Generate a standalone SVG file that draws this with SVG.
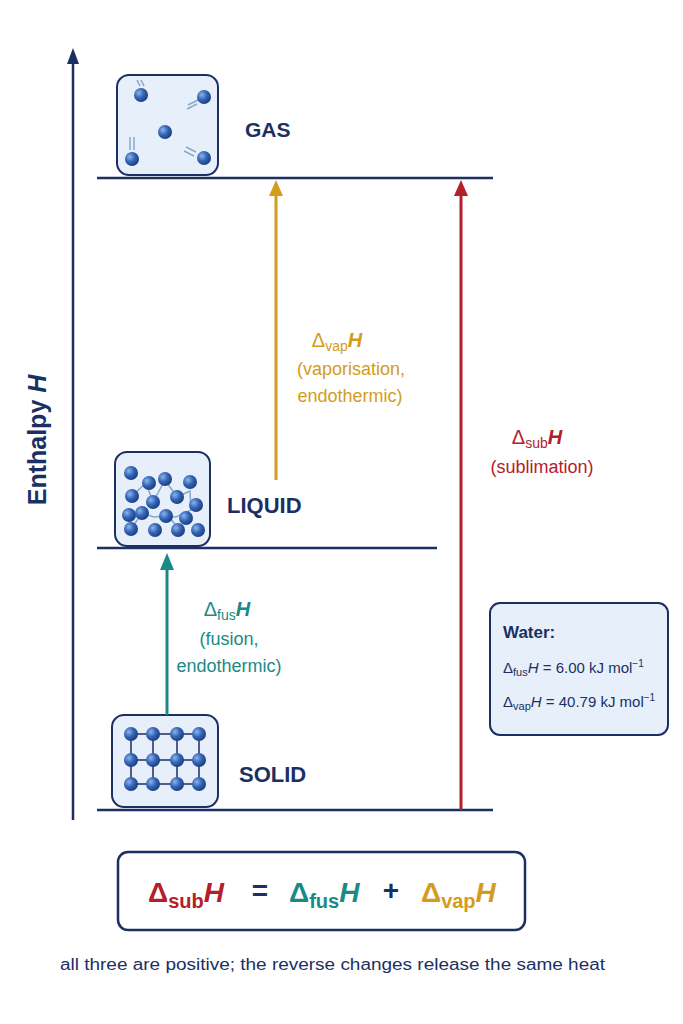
<svg xmlns="http://www.w3.org/2000/svg" width="683" height="1024" viewBox="0 0 683 1024">
<defs>
<style>
text{font-family:"Liberation Sans",Arial,sans-serif}
.navy{fill:#1b2f63}
.box{fill:#e6effa;stroke:#1b2f63;stroke-width:2}
.lvl{stroke:#1b2f63;stroke-width:2.5}
.ball{fill:url(#bg)}
.bond{stroke:#1b2f63;stroke-width:1.5}
.lb{stroke:#8aa8cc;stroke-width:1.5}
.gold{fill:#d49c1c}.teal{fill:#1a8a86}.red{fill:#b3202a}
</style>
<radialGradient id="bg" cx="0.35" cy="0.35" r="0.7"><stop offset="0" stop-color="#8fb4ea"/><stop offset="0.5" stop-color="#3466b8"/><stop offset="1" stop-color="#1b3b7a"/></radialGradient>
</defs>
<g id="axis">
<line x1="73" y1="820" x2="73" y2="62" stroke="#1b2f63" stroke-width="2.5"/>
<path d="M67,64 L73,48 L79,64 Z" fill="#1b2f63"/>
<text transform="translate(46,440) rotate(-90)" text-anchor="middle" font-size="25" font-weight="bold" class="navy">Enthalpy <tspan font-style="italic">H</tspan></text>
</g>
<g id="levels">
<line class="lvl" x1="97" y1="178" x2="493" y2="178"/>
<line class="lvl" x1="97" y1="548" x2="437" y2="548"/>
<line class="lvl" x1="97" y1="810" x2="493" y2="810"/>
</g>
<g id="gas">
<rect class="box" x="117" y="75" width="101" height="100" rx="12"/>
<g class="lb"><line x1="140" y1="86" x2="137" y2="80"/><line x1="144" y1="86" x2="141" y2="80"/><line x1="188" y1="105" x2="198" y2="100"/><line x1="187" y1="109" x2="197" y2="104"/><line x1="130" y1="150" x2="130" y2="137"/><line x1="134" y1="150" x2="134" y2="137"/><line x1="186" y1="147" x2="196" y2="152"/><line x1="184" y1="151" x2="194" y2="156"/></g>
<circle class="ball" cx="141" cy="95" r="7"/><circle class="ball" cx="204" cy="97" r="7"/><circle class="ball" cx="165" cy="132" r="7"/><circle class="ball" cx="132" cy="159" r="7"/><circle class="ball" cx="204" cy="158" r="7"/>
<text x="245" y="137" font-size="21" font-weight="bold" class="navy">GAS</text>
</g>
<g id="liquid">
<rect class="box" x="115" y="452" width="95" height="94" rx="12"/>
<g class="lb"><polyline fill="none" points="132,496 146,483 153,502 165,480 177,497 190,491 191,510 176,517 165,516 154,517 142,513 129,518"/><line x1="131" y1="529" x2="142" y2="513"/><line x1="168" y1="516" x2="180" y2="530"/></g>
<g class="ball"><circle cx="131" cy="473" r="7"/><circle cx="149" cy="483" r="7"/><circle cx="165" cy="479" r="7"/><circle cx="190" cy="482" r="7"/><circle cx="132" cy="496" r="7"/><circle cx="153" cy="502" r="7"/><circle cx="177" cy="497" r="7"/><circle cx="196" cy="505" r="7"/><circle cx="129" cy="515" r="7"/><circle cx="142" cy="513" r="7"/><circle cx="166" cy="516" r="7"/><circle cx="186" cy="518" r="7"/><circle cx="131" cy="529" r="7"/><circle cx="155" cy="530" r="7"/><circle cx="178" cy="530" r="7"/><circle cx="198" cy="530" r="7"/></g>
<text x="227" y="513" font-size="22" font-weight="bold" class="navy">LIQUID</text>
</g>
<g id="solid">
<rect class="box" x="112" y="715" width="106" height="92" rx="12"/>
<g class="bond"><line x1="131" y1="734" x2="199" y2="734"/><line x1="131" y1="760" x2="199" y2="760"/><line x1="131" y1="784" x2="199" y2="784"/><line x1="131" y1="734" x2="131" y2="784"/><line x1="153" y1="734" x2="153" y2="784"/><line x1="177" y1="734" x2="177" y2="784"/><line x1="199" y1="734" x2="199" y2="784"/></g>
<g class="ball"><circle cx="131" cy="734" r="7"/><circle cx="153" cy="734" r="7"/><circle cx="177" cy="734" r="7"/><circle cx="199" cy="734" r="7"/><circle cx="131" cy="760" r="7"/><circle cx="153" cy="760" r="7"/><circle cx="177" cy="760" r="7"/><circle cx="199" cy="760" r="7"/><circle cx="131" cy="784" r="7"/><circle cx="153" cy="784" r="7"/><circle cx="177" cy="784" r="7"/><circle cx="199" cy="784" r="7"/></g>
<text x="239" y="782" font-size="22" font-weight="bold" class="navy">SOLID</text>
</g>
<g id="connectors">
<line x1="276" y1="480" x2="276" y2="194" stroke="#d49c1c" stroke-width="3"/>
<path d="M269,196 L276,180 L283,196 Z" fill="#d49c1c"/>
<line x1="461" y1="810" x2="461" y2="194" stroke="#b3202a" stroke-width="3"/>
<path d="M454,196 L461,180 L468,196 Z" fill="#b3202a"/>
<line x1="167" y1="715" x2="167" y2="568" stroke="#1a8a86" stroke-width="3"/>
<path d="M160,570 L167,553 L174,570 Z" fill="#1a8a86"/>
</g>
<g id="label-vap" class="gold" font-size="18" text-anchor="middle">
<text x="337" y="347" font-size="20">Δ<tspan font-size="14" dy="4">vap</tspan><tspan dy="-4" font-weight="bold" font-style="italic">H</tspan></text>
<text x="351" y="375">(vaporisation,</text>
<text x="350" y="402">endothermic)</text>
</g>
<g id="label-sub" class="red" font-size="18" text-anchor="middle">
<text x="537" y="444" font-size="20">Δ<tspan font-size="14" dy="4">sub</tspan><tspan dy="-4" font-weight="bold" font-style="italic">H</tspan></text>
<text x="542" y="473">(sublimation)</text>
</g>
<g id="label-fus" class="teal" font-size="18" text-anchor="middle">
<text x="227" y="616" font-size="20">Δ<tspan font-size="14" dy="4">fus</tspan><tspan dy="-4" font-weight="bold" font-style="italic">H</tspan></text>
<text x="229" y="645">(fusion,</text>
<text x="229" y="672">endothermic)</text>
</g>
<g id="water">
<rect class="box" x="490" y="603" width="178" height="132" rx="10"/>
<text x="503" y="638" font-size="17" font-weight="bold" class="navy">Water:</text>
<text x="503" y="673" font-size="15" class="navy">Δ<tspan font-size="11" dy="3">fus</tspan><tspan dy="-3" font-style="italic">H</tspan> = 6.00 kJ mol<tspan font-size="10" dy="-6">−1</tspan></text>
<text x="503" y="707" font-size="15" class="navy">Δ<tspan font-size="11" dy="3">vap</tspan><tspan dy="-3" font-style="italic">H</tspan> = 40.79 kJ mol<tspan font-size="10" dy="-6">−1</tspan></text>
</g>
<g id="equation" font-size="28" font-weight="bold">
<rect x="118" y="852" width="407" height="78" rx="10" fill="#fff" stroke="#1b2f63" stroke-width="2.5"/>
<text x="148" y="902" class="red">Δ<tspan font-size="20" dy="6">sub</tspan><tspan dy="-6" font-style="italic">H</tspan></text>
<text x="260" y="900" class="navy" text-anchor="middle">=</text>
<text x="289" y="902" class="teal">Δ<tspan font-size="20" dy="6">fus</tspan><tspan dy="-6" font-style="italic">H</tspan></text>
<text x="391" y="900" class="navy" text-anchor="middle">+</text>
<text x="421" y="902" class="gold">Δ<tspan font-size="20" dy="6">vap</tspan><tspan dy="-6" font-style="italic">H</tspan></text>
</g>
<text x="60" y="970" font-size="16" textLength="545" lengthAdjust="spacingAndGlyphs" class="navy">all three are positive; the reverse changes release the same heat</text>
</svg>
